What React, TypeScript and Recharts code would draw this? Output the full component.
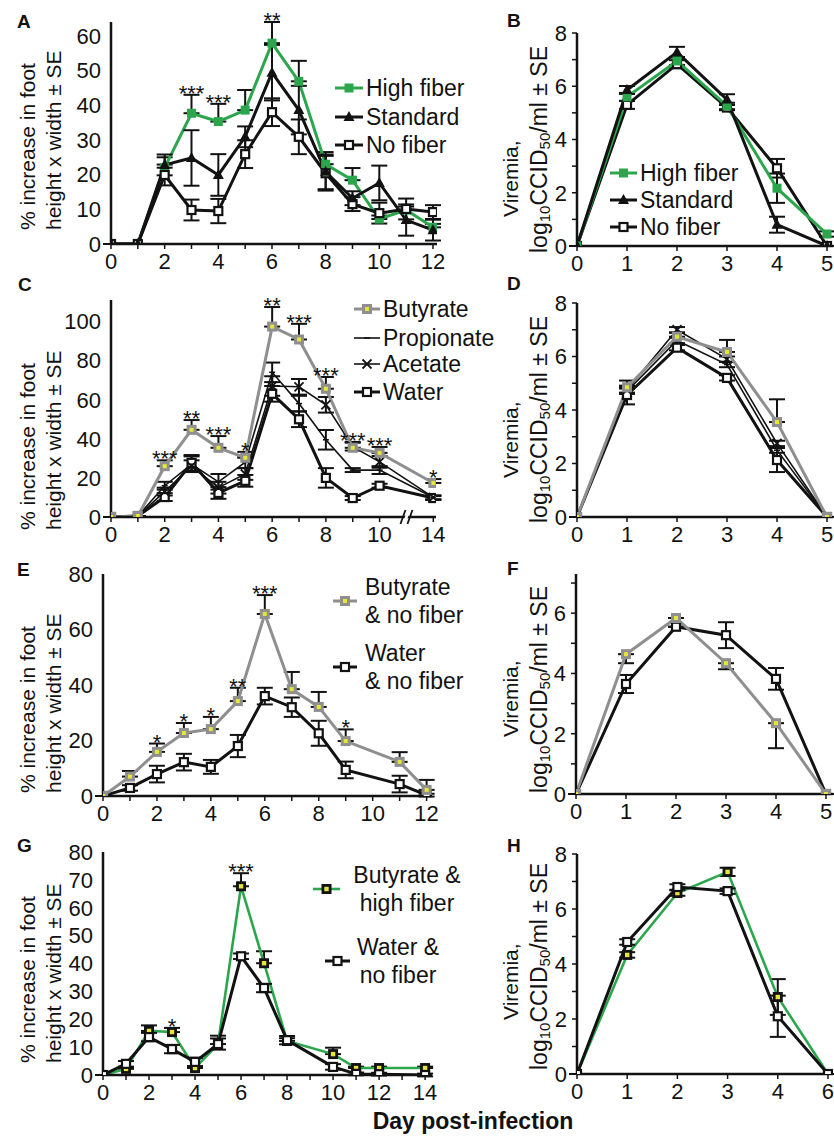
import React from 'react';
import { LineChart, Line, XAxis, YAxis, ErrorBar, ReferenceDot, LabelList } from 'recharts';

const FONT = '"Liberation Sans", Arial, Helvetica, sans-serif';
const GREEN = '#2ca64d';
const GRAY = '#8f8f8f';
const YELLOW = '#e6e63a';
const INK = '#121212';

// ---------- Panel A : foot swelling, diets ----------
const daysA = [0, 1, 2, 3, 4, 5, 6, 7, 8, 9, 10, 11, 12];
const highFiberA = [0, 0, 22, 37.7, 35.3, 38.6, 57.9, 46.9, 23, 18.4, 7.2, 9.8, 4.8];
const highFiberErrA = [0, 0, 3, 5.3, 5.1, 5.8, 6.1, 5.9, 3.5, 3.5, 1, 1, 1];
const standardA = [0, 0, 22.8, 24.8, 19.9, 30.9, 49.4, 38.6, 20.8, 13.2, 17.6, 6.9, 4];
const standardErrA = [0, 0, 3, 8, 6, 3, 8, 7, 5, 2, 5, 4.5, 3];
const noFiberA = [0, 0, 19.9, 9.8, 9.5, 25.9, 38, 30.9, 20.4, 11.5, 8.9, 10.1, 9.2];
const noFiberErrA = [0, 0, 3, 3, 3.5, 4, 4, 5, 5, 2, 3, 3, 2];
const starsA = ['', '', '', '***', '***', '', '**', '', '', '', '', '', ''];

// ---------- Panel B : viremia, diets ----------
const daysB = [0, 1, 2, 3, 4, 5];
const highFiberB = [0, 5.6, 6.95, 5.26, 2.17, 0.45];
const highFiberErrB = [0, 0.15, 0.15, 0.12, 0.55, 0.1];
const standardB = [0, 5.86, 7.28, 5.5, 0.8, 0];
const standardErrB = [0, 0.15, 0.2, 0.2, 0.3, 0];
const noFiberB = [0, 5.3, 6.83, 5.2, 2.92, 0];
const noFiberErrB = [0, 0.15, 0.15, 0.1, 0.35, 0];

// ---------- Panel C : foot swelling, SCFA ----------
const daysC = [0, 1, 2, 3, 4, 5, 6, 7, 8, 9, 10, 14];
const butyrateC = [0, 0.5, 26, 44.6, 35.4, 30.3, 97.4, 90.8, 65.6, 35.4, 32.8, 17.4];
const butyrateErrC = [0, 0, 3, 5, 6, 3, 10, 8, 6, 3, 3, 2];
const propionateC = [0, 0.5, 16, 27, 18, 28, 74, 58, 39.5, 24, 24, 10];
const propionateErrC = [0, 0, 2, 4, 4, 3, 5, 4, 5, 1, 2, 1];
const acetateC = [0, 0.5, 13, 26, 15, 22, 67, 66.6, 57.4, 36, 28.2, 10];
const acetateErrC = [0, 0, 2, 3, 3, 3, 5, 4, 4, 2, 3, 1];
const waterC = [0, 0.5, 10.2, 27.7, 12.3, 18.5, 63, 50, 20, 9.7, 16, 9.7];
const waterErrC = [0, 0, 2, 4, 3, 3, 4, 4, 5, 1, 1, 1];
const starsC = ['', '', '***', '**', '***', '*', '**', '***', '***', '***', '***', '*'];

// ---------- Panel D : viremia, SCFA ----------
const daysD = [0, 1, 2, 3, 4, 5];
const butyrateD = [0, 4.85, 6.74, 6.17, 3.55, 0];
const butyrateErrD = [0, 0.25, 0.15, 0.45, 0.85, 0];
const propionateD = [0, 4.7, 6.6, 5.7, 2.5, 0];
const propionateErrD = [0, 0.1, 0.1, 0.1, 0.1, 0];
const acetateD = [0, 4.75, 7.0, 5.9, 2.75, 0];
const acetateErrD = [0, 0.1, 0.1, 0.1, 0.1, 0];
const waterD = [0, 4.56, 6.33, 5.2, 2.13, 0];
const waterErrD = [0, 0.35, 0.1, 0.1, 0.45, 0];

// ---------- Panel E : butyrate & no fiber ----------
const daysE = [0, 1, 2, 3, 4, 5, 6, 7, 8, 9, 11, 12];
const butyrateE = [0, 7, 15.9, 22.7, 24.1, 34.2, 65.6, 38.5, 32.1, 19.8, 12.3, 2.2];
const butyrateErrE = [0, 2, 3, 3.6, 4.4, 4.8, 6.8, 6.2, 5.4, 4.2, 3.5, 3.6];
const waterE = [0, 2.9, 7.9, 12.2, 10.5, 18, 36, 32, 22.6, 9.4, 4.3, 0.3];
const waterErrE = [0, 1, 3, 3, 2.5, 4, 3, 3.5, 4.5, 3, 3, 0.5];
const starsE = ['', '', '*', '*', '*', '**', '***', '', '', '*', '', ''];

// ---------- Panel F : viremia ----------
const daysF = [0, 1, 2, 3, 4, 5];
const butyrateF = [0, 4.64, 5.84, 4.34, 2.35, 0];
const butyrateErrF = [0, 0.3, 0, 0.2, 0.83, 0];
const waterF = [0, 3.65, 5.55, 5.27, 3.82, 0];
const waterErrF = [0, 0.3, 0, 0.43, 0.36, 0];

// ---------- Panel G : butyrate & high fiber ----------
const daysG = [0, 1, 2, 3, 4, 5, 6, 7, 8, 10, 11, 12, 14];
const butyrateG = [0, 2.2, 15.8, 15.4, 2.5, 11.1, 67.7, 40.1, 12.2, 7.5, 2.5, 2.5, 2.5];
const butyrateErrG = [0, 0.5, 2, 1.5, 0.5, 3, 4.7, 4.3, 1, 2.3, 0.5, 0.5, 0.5];
const waterG = [0, 4, 13.6, 9.3, 4.7, 11.1, 42.6, 31.2, 12.5, 2.9, 0.4, 0.3, 0];
const waterErrG = [0, 1, 1.5, 1.5, 1.5, 2, 1, 1.5, 1.5, 1, 0.5, 0.5, 0.5];
const starsG = ['', '', '', '*', '', '', '***', '', '', '', '', '', ''];

// ---------- Panel H : viremia ----------
const daysH = [0, 1, 2, 3, 4, 6];
const butyrateH = [0, 4.33, 6.58, 7.35, 2.8, 0];
const butyrateErrH = [0, 0.1, 0.1, 0.15, 0.65, 0];
const waterH = [0, 4.8, 6.8, 6.65, 2.1, 0];
const waterErrH = [0, 0.1, 0.1, 0.1, 0.75, 0];

// ---------- markers ----------
type Marker = (cx: number, cy: number) => React.ReactNode;
const mGreenSquare: Marker = (cx, cy) => <rect x={cx - 4.5} y={cy - 4.5} width={9} height={9} fill={GREEN} />;
const mTriangle: Marker = (cx, cy) => (
  <polygon points={`${cx},${cy - 6} ${cx - 5.5},${cy + 4} ${cx + 5.5},${cy + 4}`} fill={INK} />
);
const mOpenSquare: Marker = (cx, cy) => (
  <rect x={cx - 4} y={cy - 4} width={8} height={8} fill="#fff" stroke={INK} strokeWidth={2.2} />
);
const mGraySquare: Marker = (cx, cy) => (
  <g>
    <rect x={cx - 5} y={cy - 5} width={10} height={10} fill={GRAY} />
    <rect x={cx - 2} y={cy - 2} width={4} height={4} fill={YELLOW} />
  </g>
);
const mBlackYellow: Marker = (cx, cy) => (
  <g>
    <rect x={cx - 5} y={cy - 5} width={10} height={10} fill={INK} />
    <rect x={cx - 2.2} y={cy - 2.2} width={4.4} height={4.4} fill={YELLOW} />
  </g>
);
const mDash: Marker = (cx, cy) => <line x1={cx - 3} x2={cx + 3} y1={cy} y2={cy} stroke={INK} strokeWidth={1.6} />;
const mCross: Marker = (cx, cy) => (
  <g stroke={INK} strokeWidth={1.8}>
    <line x1={cx - 4.5} y1={cy - 4.5} x2={cx + 4.5} y2={cy + 4.5} />
    <line x1={cx - 4.5} y1={cy + 4.5} x2={cx + 4.5} y2={cy - 4.5} />
  </g>
);

const dotOf = (m: Marker) => (p: any) =>
  p.cx == null || p.cy == null ? <g key={`n${p.index}`} /> : <g key={`d${p.index}`}>{m(p.cx, p.cy)}</g>;

type Series = {
  values: number[];
  err: number[];
  dir: 'up' | 'down' | 'both';
  stroke: string;
  sw: number;
  marker: Marker;
};

type Geo = { l: number; t: number; r: number; b: number };

type PanelProps = {
  g: Geo;
  days: number[];
  pos?: (d: number) => number;
  series: Series[];
  xDomain: [number, number];
  xTicks: number[];
  xFmt: (v: number) => string;
  yDomain: [number, number];
  yTicks: number[];
  yFmt: (v: number) => string;
  right?: boolean;
  stars?: string[];
  starRef?: number;
  breakAt?: number;
};

const YW = 60;
const XH = 40;
const MT = 30;
const MR = 22;

const StarLabel = (props: any) => {
  const { x, y, value } = props;
  if (!value || y == null || x == null) return null;
  return (
    <text x={x} y={y + 6} textAnchor="middle" fontSize={22} fontFamily={FONT} fill={INK}>
      {value}
    </text>
  );
};

const BreakShape = (props: any) => {
  const { cx, cy } = props;
  if (cx == null || cy == null) return <g />;
  return (
    <g>
      <polygon points={`${cx - 4},${cy + 6} ${cx + 1},${cy - 6} ${cx + 4},${cy - 6} ${cx - 1},${cy + 6}`} fill="#fff" />
      <line x1={cx - 6} y1={cy + 7} x2={cx - 1} y2={cy - 7} stroke={INK} strokeWidth={1.8} />
      <line x1={cx + 1} y1={cy + 7} x2={cx + 6} y2={cy - 7} stroke={INK} strokeWidth={1.8} />
    </g>
  );
};

function Panel(p: PanelProps) {
  const { l, t, r, b } = p.g;
  const width = r - l + YW + MR;
  const height = b - t + MT + XH;
  const rows = p.days.map((d, i) => {
    const row: Record<string, any> = { x: p.pos ? p.pos(d) : d };
    p.series.forEach((s, k) => {
      row[`v${k}`] = s.values[i];
      const e = s.err[i];
      row[`e${k}`] = s.dir === 'up' ? [0, e] : s.dir === 'down' ? [e, 0] : [e, e];
    });
    if (p.stars) {
      const s = p.series[p.starRef ?? 0];
      row.star = p.stars[i] || null;
      row.starY = p.stars[i] ? s.values[i] + (s.dir === 'down' ? 0 : s.err[i]) : null;
    }
    return row;
  });
  const tickStyle = { fill: INK, fontSize: 22, fontFamily: FONT };
  return (
    <div style={{ position: 'absolute', left: l - YW, top: t - MT, width, height }}>
      <LineChart width={width} height={height} data={rows} margin={{ top: MT, right: MR, left: 0, bottom: 0 }}>
        <XAxis
          dataKey="x"
          type="number"
          domain={p.xDomain}
          ticks={p.xTicks}
          tickFormatter={p.xFmt}
          interval={0}
          height={XH}
          fontSize={22}
          axisLine={{ stroke: INK, strokeWidth: 2.5 }}
          tickLine={{ stroke: INK, strokeWidth: 1.5 }}
          tickSize={5}
          tickMargin={4}
          tick={tickStyle}
          allowDataOverflow
        />
        <YAxis
          type="number"
          domain={p.yDomain}
          ticks={p.yTicks}
          tickFormatter={p.yFmt}
          interval={0}
          width={YW}
          fontSize={22}
          axisLine={{ stroke: INK, strokeWidth: 2.5 }}
          tickLine={p.right ? { stroke: INK, strokeWidth: 1.5 } : false}
          tickSize={p.right ? 5 : 0}
          tickMargin={p.right ? 5 : 10}
          tick={tickStyle}
          allowDataOverflow
        />
        {p.series.map((s, k) => (
          <Line
            key={k}
            type="linear"
            dataKey={`v${k}`}
            stroke={s.stroke}
            strokeWidth={s.sw}
            dot={dotOf(s.marker)}
            activeDot={false}
            isAnimationActive={false}
          >
            <ErrorBar dataKey={`e${k}`} direction="y" width={8} strokeWidth={2} stroke={INK} isAnimationActive={false} />
          </Line>
        ))}
        {p.stars && (
          <Line dataKey="starY" stroke="none" dot={false} activeDot={false} isAnimationActive={false}>
            <LabelList dataKey="star" content={StarLabel} />
          </Line>
        )}
        {p.breakAt != null && <ReferenceDot x={p.breakAt} y={0} r={0} shape={BreakShape} ifOverflow="visible" />}
      </LineChart>
    </div>
  );
}

const range = (a: number, b: number) => Array.from({ length: b - a + 1 }, (_, i) => a + i);
const evenOnly = (v: number) => (v % 2 === 0 ? String(v) : '');
const plain = (v: number) => String(v);

const hfStyle = { stroke: GREEN, sw: 3, marker: mGreenSquare };
const stdStyle = { stroke: INK, sw: 3, marker: mTriangle };
const noStyle = { stroke: INK, sw: 3, marker: mOpenSquare };
const butStyle = { stroke: GRAY, sw: 3, marker: mGraySquare };
const propStyle = { stroke: INK, sw: 1.6, marker: mDash };
const aceStyle = { stroke: INK, sw: 1.6, marker: mCross };
const watStyle = { stroke: INK, sw: 3, marker: mOpenSquare };
const butGStyle = { stroke: GREEN, sw: 2.6, marker: mBlackYellow };

type LegItem = { label: string[]; stroke: string; sw: number; marker: Marker; y: number };

function LegendGroup({ items, x1, x2, tx, anchor, lineGap }: { items: LegItem[]; x1: number; x2: number; tx: number; anchor?: 'start' | 'middle'; lineGap?: number }) {
  const cx = (x1 + x2) / 2;
  return (
    <g>
      {items.map((it, i) => {
        const n = it.label.length;
        const gap = lineGap ?? 28;
        return (
          <g key={i}>
            <line x1={x1} x2={x2} y1={it.y} y2={it.y} stroke={it.stroke} strokeWidth={it.sw} />
            {it.marker(cx, it.y)}
            {it.label.map((s, j) => (
              <text
                key={j}
                x={tx}
                y={it.y + (j - (n - 1) / 2) * gap}
                dominantBaseline="central"
                textAnchor={anchor ?? 'start'}
                fontSize={23}
                fontFamily={FONT}
                fill={INK}
              >
                {s}
              </text>
            ))}
          </g>
        );
      })}
    </g>
  );
}

function LeftTitle({ bottom }: { bottom: number }) {
  return (
    <g fontFamily={FONT} fontSize={21} fill={INK}>
      <text x={27} y={bottom} transform={`rotate(-90 27 ${bottom})`} dominantBaseline="central">
        % increase in foot
      </text>
      <text x={53} y={bottom} transform={`rotate(-90 53 ${bottom})`} dominantBaseline="central">
        height x width ± SE
      </text>
    </g>
  );
}

function RightTitle({ vBottom, lBottom }: { vBottom: number; lBottom: number }) {
  return (
    <g fontFamily={FONT} fill={INK}>
      <text x={510} y={vBottom} fontSize={21} transform={`rotate(-90 510 ${vBottom})`} dominantBaseline="central">
        Viremia,
      </text>
      <text x={539} y={lBottom} fontSize={23} transform={`rotate(-90 539 ${lBottom})`} dominantBaseline="central">
        log
        <tspan fontSize={15} dy={5}>10</tspan>
        <tspan dy={-5}>CCID</tspan>
        <tspan fontSize={15} dy={5}>50</tspan>
        <tspan dy={-5}>/ml ± SE</tspan>
      </text>
    </g>
  );
}

export default function App() {
  const posC = (d: number) => (d === 14 ? 12 : d);
  const posH = (d: number) => (d === 6 ? 5 : d);
  const letters: [string, number, number][] = [
    ['A', 17, 28],
    ['B', 507, 27],
    ['C', 18, 291],
    ['D', 507, 290],
    ['E', 17, 576],
    ['F', 507, 575],
    ['G', 17, 852],
    ['H', 507, 852],
  ];
  return (
    <div style={{ position: 'absolute', left: 0, top: 0, width: 834, height: 1136, overflow: 'hidden', background: '#fff', fontFamily: FONT }}>
      <Panel
        g={{ l: 111, t: 22, r: 437, b: 244 }}
        days={daysA}
        series={[
          { values: highFiberA, err: highFiberErrA, dir: 'up', ...hfStyle },
          { values: noFiberA, err: noFiberErrA, dir: 'both', ...noStyle },
          { values: standardA, err: standardErrA, dir: 'both', ...stdStyle },
        ]}
        xDomain={[0, 12.15]}
        xTicks={range(0, 12)}
        xFmt={evenOnly}
        yDomain={[0, 64]}
        yTicks={[0, 10, 20, 30, 40, 50, 60]}
        yFmt={plain}
        stars={starsA}
        starRef={0}
      />
      <Panel
        g={{ l: 577, t: 33, r: 833, b: 246 }}
        days={daysB}
        right
        series={[
          { values: noFiberB, err: noFiberErrB, dir: 'both', ...noStyle },
          { values: highFiberB, err: highFiberErrB, dir: 'both', ...hfStyle },
          { values: standardB, err: standardErrB, dir: 'both', ...stdStyle },
        ]}
        xDomain={[0, 5.12]}
        xTicks={range(0, 5)}
        xFmt={plain}
        yDomain={[0, 8]}
        yTicks={range(0, 8)}
        yFmt={evenOnly}
      />
      <Panel
        g={{ l: 111, t: 300, r: 436, b: 517 }}
        days={daysC}
        pos={posC}
        series={[
          { values: waterC, err: waterErrC, dir: 'both', ...watStyle },
          { values: acetateC, err: acetateErrC, dir: 'both', ...aceStyle },
          { values: propionateC, err: propionateErrC, dir: 'both', ...propStyle },
          { values: butyrateC, err: butyrateErrC, dir: 'up', ...butStyle },
        ]}
        xDomain={[0, 12.1]}
        xTicks={[...range(0, 10), 12]}
        xFmt={(v) => (v === 12 ? '14' : evenOnly(v))}
        yDomain={[0, 111]}
        yTicks={[0, 20, 40, 60, 80, 100]}
        yFmt={plain}
        stars={starsC}
        starRef={3}
        breakAt={11}
      />
      <Panel
        g={{ l: 577, t: 303, r: 833, b: 517 }}
        days={daysD}
        right
        series={[
          { values: waterD, err: waterErrD, dir: 'both', ...watStyle },
          { values: propionateD, err: propionateErrD, dir: 'both', ...propStyle },
          { values: acetateD, err: acetateErrD, dir: 'both', ...aceStyle },
          { values: butyrateD, err: butyrateErrD, dir: 'up', ...butStyle },
        ]}
        xDomain={[0, 5.12]}
        xTicks={range(0, 5)}
        xFmt={plain}
        yDomain={[0, 8]}
        yTicks={range(0, 8)}
        yFmt={evenOnly}
      />
      <Panel
        g={{ l: 103, t: 574, r: 432, b: 796 }}
        days={daysE}
        series={[
          { values: waterE, err: waterErrE, dir: 'both', ...watStyle },
          { values: butyrateE, err: butyrateErrE, dir: 'up', ...butStyle },
        ]}
        xDomain={[0, 12.2]}
        xTicks={range(0, 12)}
        xFmt={evenOnly}
        yDomain={[0, 80]}
        yTicks={[0, 20, 40, 60, 80]}
        yFmt={plain}
        stars={starsE}
        starRef={1}
      />
      <Panel
        g={{ l: 576, t: 574, r: 833, b: 794 }}
        days={daysF}
        right
        series={[
          { values: waterF, err: waterErrF, dir: 'both', ...watStyle },
          { values: butyrateF, err: butyrateErrF, dir: 'down', ...butStyle },
        ]}
        xDomain={[0, 5.14]}
        xTicks={range(0, 5)}
        xFmt={plain}
        yDomain={[0, 7.3]}
        yTicks={range(0, 7)}
        yFmt={evenOnly}
      />
      <Panel
        g={{ l: 103, t: 852, r: 432, b: 1075 }}
        days={daysG}
        series={[
          { values: butyrateG, err: butyrateErrG, dir: 'up', ...butGStyle },
          { values: waterG, err: waterErrG, dir: 'both', ...watStyle },
        ]}
        xDomain={[0, 14.3]}
        xTicks={range(0, 14)}
        xFmt={evenOnly}
        yDomain={[0, 80]}
        yTicks={[0, 10, 20, 30, 40, 50, 60, 70, 80]}
        yFmt={plain}
        stars={starsG}
        starRef={0}
      />
      <Panel
        g={{ l: 577, t: 854, r: 833, b: 1074 }}
        days={daysH}
        pos={posH}
        right
        series={[
          { values: butyrateH, err: butyrateErrH, dir: 'both', ...butGStyle },
          { values: waterH, err: waterErrH, dir: 'both', ...watStyle },
        ]}
        xDomain={[0, 5.1]}
        xTicks={range(0, 5)}
        xFmt={(v) => (v === 5 ? '6' : String(v))}
        yDomain={[0, 8]}
        yTicks={range(0, 8)}
        yFmt={evenOnly}
      />

      <svg width={834} height={1136} style={{ position: 'absolute', left: 0, top: 0, pointerEvents: 'none' }}>
        {letters.map(([s, x, y]) => (
          <text key={s} x={x} y={y} fontSize={19} fontWeight="bold" fontFamily={FONT} fill={INK}>
            {s}
          </text>
        ))}
        <LeftTitle bottom={230} />
        <LeftTitle bottom={530} />
        <LeftTitle bottom={793} />
        <LeftTitle bottom={1063} />
        <RightTitle vBottom={217} lBottom={253} />
        <RightTitle vBottom={478} lBottom={523} />
        <RightTitle vBottom={737} lBottom={793} />
        <RightTitle vBottom={1020} lBottom={1070} />

        <LegendGroup
          x1={335}
          x2={363}
          tx={366}
          items={[
            { label: ['High fiber'], y: 88, ...hfStyle },
            { label: ['Standard'], y: 117, ...stdStyle },
            { label: ['No fiber'], y: 145, ...noStyle },
          ]}
        />
        <LegendGroup
          x1={610}
          x2={637}
          tx={640}
          items={[
            { label: ['High fiber'], y: 173, ...hfStyle },
            { label: ['Standard'], y: 200, ...stdStyle },
            { label: ['No fiber'], y: 227, ...noStyle },
          ]}
        />
        <LegendGroup
          x1={354}
          x2={380}
          tx={383}
          items={[
            { label: ['Butyrate'], y: 309, ...butStyle },
            { label: ['Propionate'], y: 338, ...propStyle },
            { label: ['Acetate'], y: 364, ...aceStyle },
            { label: ['Water'], y: 392, ...watStyle },
          ]}
        />
        <LegendGroup
          x1={333}
          x2={357}
          tx={365}
          items={[
            { label: ['Butyrate', '& no fiber'], y: 601, ...butStyle },
            { label: ['Water', '& no fiber'], y: 667, ...watStyle },
          ]}
        />
        <LegendGroup
          x1={313}
          x2={340}
          tx={407}
          anchor="middle"
          items={[{ label: ['Butyrate &', 'high fiber'], y: 889, ...butGStyle }]}
        />
        <LegendGroup
          x1={325}
          x2={350}
          tx={398}
          anchor="middle"
          items={[{ label: ['Water &', 'no fiber'], y: 961, ...watStyle }]}
        />
        <text x={473} y={1129} textAnchor="middle" fontSize={23} fontWeight="bold" fontFamily={FONT} fill={INK}>
          Day post-infection
        </text>
      </svg>
    </div>
  );
}
